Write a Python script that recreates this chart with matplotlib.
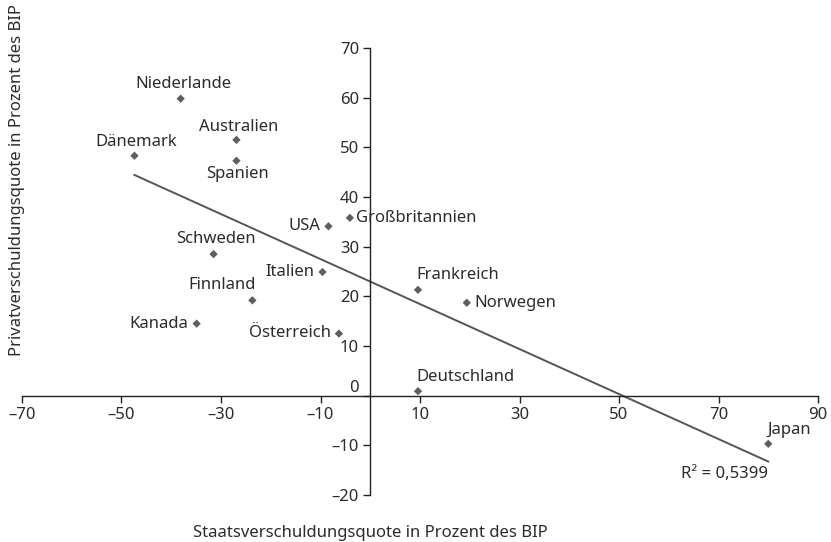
# plot.py
# Streudiagramm: Staatsverschuldung vs. Privatverschuldung (in Prozent des BIP)

# Imports --------------------------------------------

import numpy as np
import matplotlib
matplotlib.use('Agg')
from matplotlib import pyplot as plt

# Data --------------------------------------------

countries = ['Niederlande', 'Australien', 'Dänemark', 'Spanien', 'Großbritannien',
             'USA', 'Schweden', 'Italien', 'Finnland', 'Kanada', 'Österreich',
             'Frankreich', 'Norwegen', 'Deutschland', 'Japan']
staatsQuote = [-38.1, -26.9, -47.4, -26.9, -4.1, -8.4, -31.5, -9.6, -23.7, -34.9, -6.3,
               9.6, 19.4, 9.6, 80.0]
privatQuote = [59.8, 51.5, 48.3, 47.3, 35.8, 34.1, 28.5, 24.9, 19.2, 14.5, 12.5,
               21.3, 18.7, 0.9, -9.7]
rSquaredText = 'R² = 0,5399'

xTicks = [-70, -50, -30, -10, 10, 30, 50, 70, 90]
yTicks = [-20, -10, 0, 10, 20, 30, 40, 50, 60, 70]

# Presets --------------------------------------------

textColor = '#2b2b2b'
markColor = '#5e5e5e'
lineColor = '#555555'
fontSize = 12
plt.rcParams['font.family'] = ['Noto Sans', 'DejaVu Sans']

# label offsets in pixels (dx, dy, ha, va) relative to each point
labelPos = {
    'Niederlande': (3, 15, 'center', 'center'),
    'Australien': (2, 13, 'center', 'center'),
    'Dänemark': (2, 14, 'center', 'center'),
    'Spanien': (1, -13, 'center', 'center'),
    'Großbritannien': (6, 0, 'left', 'center'),
    'USA': (-8, 0, 'right', 'center'),
    'Schweden': (2, 15, 'center', 'center'),
    'Italien': (-8, 0, 'right', 'center'),
    'Finnland': (3, 15, 'right', 'center'),
    'Kanada': (-8, 0, 'right', 'center'),
    'Österreich': (-8, 1, 'right', 'center'),
    'Frankreich': (-2, 15, 'left', 'center'),
    'Norwegen': (8, 0, 'left', 'center'),
    'Deutschland': (-2, 14, 'left', 'center'),
    'Japan': (-1, 14, 'left', 'center'),
}

# Plot --------------------------------------------

fig = plt.figure(figsize=(8.31, 5.42), dpi=100)
ax = fig.add_axes([22/831, 47/542, 796/831, 447/542])
ax.set_xlim(-70, 90)
ax.set_ylim(-20, 70)

# axes crossing at the origin
for side in ['top', 'right']:
    ax.spines[side].set_visible(False)
ax.spines['left'].set_position(('data', 0))
ax.spines['bottom'].set_position(('data', 0))
for side in ['left', 'bottom']:
    ax.spines[side].set_color('#222222')
    ax.spines[side].set_linewidth(1.0)

ax.set_xticks(xTicks)
ax.set_xticklabels([str(t).replace('-', '\u2013') for t in xTicks])
ax.set_yticks(yTicks)
ax.set_yticklabels([str(t).replace('-', '\u2013') for t in yTicks])
ax.tick_params(axis='both', direction='out', length=5, width=1.0, color='#222222',
               labelsize=fontSize, labelcolor=textColor, pad=3)
# the "0" label sits above the x axis
for lab in ax.get_yticklabels():
    if lab.get_text() == '0':
        lab.set_verticalalignment('bottom')

# trend line (least squares)
x = np.array(staatsQuote)
y = np.array(privatQuote)
slope, intercept = np.polyfit(x, y, 1)
xLine = np.array([x.min(), x.max()])
ax.plot(xLine, slope*xLine + intercept, color=lineColor, lw=1.4, zorder=2)

ax.scatter(x, y, marker='D', s=18, color=markColor, edgecolors='none', zorder=3)

for name, xi, yi in zip(countries, staatsQuote, privatQuote):
    dx, dy, ha, va = labelPos[name]
    ax.annotate(name, (xi, yi), xytext=(dx*0.72, dy*0.72), textcoords='offset points',
                ha=ha, va=va, fontsize=fontSize, color=textColor)

ax.annotate(rSquaredText, (xLine[1], slope*xLine[1] + intercept), xytext=(0, -3),
            textcoords='offset points', ha='right', va='top', fontsize=fontSize,
            color=textColor)

fig.text(17/831, 1 - 180/542, 'Privatverschuldungsquote in Prozent des BIP', rotation=90,
         ha='center', va='center', fontsize=fontSize, color=textColor)
fig.text(370/831, 1 - 533/542, 'Staatsverschuldungsquote in Prozent des BIP',
         ha='center', va='center', fontsize=fontSize, color=textColor)

fig.savefig('out.png', dpi=100)
